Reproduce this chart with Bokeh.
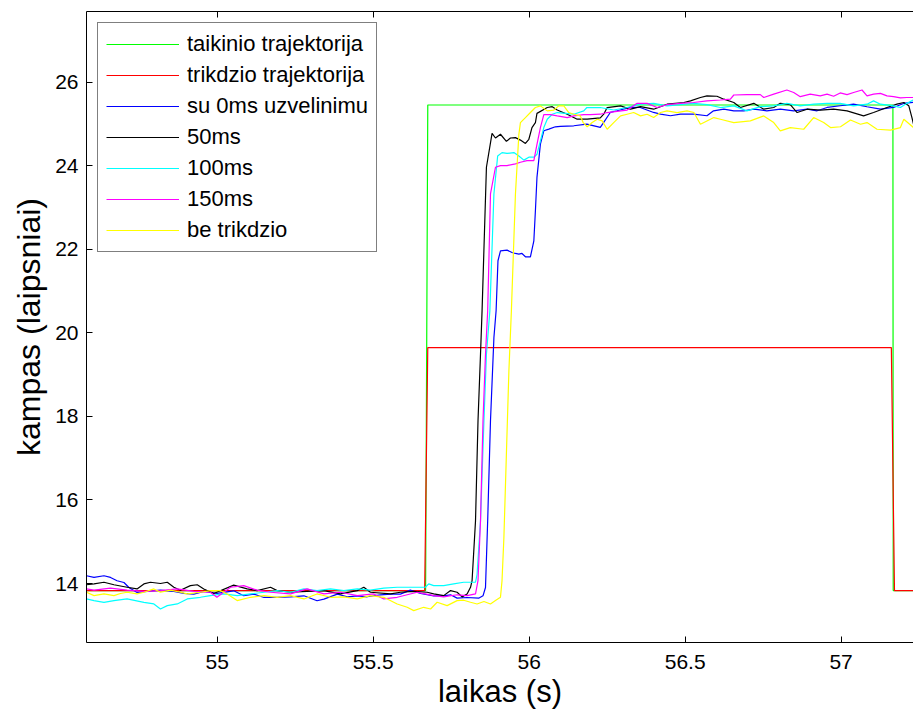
from bokeh.plotting import figure
from bokeh.models import Range1d, LinearAxis, FixedTicker, NumeralTickFormatter, Legend, LegendItem
from bokeh.embed import file_html
from bokeh.resources import INLINE

labels = ["taikinio trajektorija", "trikdzio trajektorija", "su 0ms uzvelinimu",
          "50ms", "100ms", "150ms", "be trikdzio"]
x_ticks = [55, 55.5, 56, 56.5, 57]
y_ticks = [14, 16, 18, 20, 22, 24, 26]

target_x = [54.581, 55.668, 55.675, 57.166, 57.167, 57.232]
target_y = [13.83, 13.83, 25.46, 25.46, 13.83, 13.83]

dist_x = [54.581, 55.665, 55.675, 57.161, 57.171, 57.232]
dist_y = [13.83, 13.83, 19.65, 19.65, 13.83, 13.83]

d0_x = [54.581, 54.605, 54.637, 54.658, 54.679, 54.701, 54.717, 54.743, 54.776, 54.818, 54.861, 54.893, 54.925, 54.957, 54.999,
        55.053, 55.085, 55.117, 55.150, 55.192, 55.235, 55.278, 55.320, 55.342, 55.385, 55.417, 55.449, 55.481, 55.523, 55.556,
        55.587, 55.619, 55.652, 55.694, 55.726, 55.748, 55.769, 55.801, 55.838, 55.852, 55.860, 55.867, 55.876, 55.887, 55.894,
        55.900, 55.908, 55.929, 55.945, 55.956, 55.967, 55.977, 55.988, 56.004, 56.015, 56.020, 56.025, 56.036, 56.047, 56.063,
        56.084, 56.100, 56.143, 56.185, 56.228, 56.239, 56.260, 56.282, 56.324, 56.356, 56.399, 56.421, 56.453, 56.485, 56.527,
        56.570, 56.591, 56.624, 56.656, 56.688, 56.720, 56.762, 56.805, 56.848, 56.891, 56.923, 56.955, 56.997, 57.040, 57.083,
        57.126, 57.168, 57.200, 57.231]
d0_y = [14.185, 14.145, 14.185, 14.145, 14.065, 14.025, 13.905, 13.786, 13.810, 13.842, 13.810, 13.762, 13.746, 13.810, 13.762,
        13.825, 13.706, 13.746, 13.666, 13.666, 13.682, 13.706, 13.586, 13.626, 13.746, 13.682, 13.706, 13.682, 13.730, 13.746,
        13.745, 13.841, 13.761, 13.705, 13.705, 13.729, 13.649, 13.665, 13.649, 13.705, 13.905, 15.502, 17.897, 19.893, 20.532,
        21.730, 21.969, 21.985, 21.929, 21.905, 21.889, 21.905, 21.825, 21.825, 22.209, 22.927, 23.726, 24.524, 24.843, 24.883,
        24.939, 24.950, 24.963, 25.003, 24.923, 25.043, 25.282, 25.322, 25.402, 25.402, 25.282, 25.242, 25.203, 25.242, 25.242,
        25.203, 25.322, 25.362, 25.322, 25.322, 25.362, 25.322, 25.362, 25.322, 25.362, 25.322, 25.402, 25.442, 25.482, 25.418,
        25.362, 25.402, 25.498, 25.522]

d50_x = [54.581, 54.605, 54.637, 54.669, 54.711, 54.743, 54.765, 54.786, 54.818, 54.840, 54.861, 54.882, 54.914, 54.936, 54.957,
         54.989, 55.053, 55.096, 55.128, 55.171, 55.192, 55.235, 55.288, 55.342, 55.395, 55.449, 55.470, 55.491, 55.556, 55.587,
         55.630, 55.673, 55.694, 55.726, 55.748, 55.769, 55.785, 55.801, 55.812, 55.817, 55.828, 55.836, 55.844, 55.849, 55.863,
         55.881, 55.892, 55.908, 55.927, 55.940, 55.956, 55.972, 55.988, 55.999, 56.009, 56.020, 56.025, 56.058, 56.074, 56.090,
         56.122, 56.154, 56.186, 56.228, 56.239, 56.250, 56.293, 56.325, 56.357, 56.399, 56.442, 56.496, 56.517, 56.549, 56.570,
         56.602, 56.624, 56.656, 56.677, 56.720, 56.752, 56.784, 56.805, 56.837, 56.859, 56.891, 56.934, 56.976, 57.019, 57.072,
         57.104, 57.147, 57.179, 57.201, 57.217, 57.227, 57.232]
d50_y = [13.97, 13.99, 14.03, 13.97, 13.91, 13.87, 13.99, 14.03, 14.00, 14.03, 13.91, 13.84, 13.95, 13.97, 13.87,
         13.76, 13.96, 13.87, 13.83, 13.91, 13.83, 13.79, 13.81, 13.83, 13.75, 13.83, 13.91, 13.79, 13.75, 13.79,
         13.81, 13.79, 13.75, 13.71, 13.83, 13.79, 13.68, 13.75, 13.91, 14.07, 15.50, 17.90, 19.49, 20.53, 23.97,
         24.78, 24.67, 24.76, 24.59, 24.67, 24.68, 24.62, 24.54, 24.64, 24.92, 25.04, 25.26, 25.40, 25.42, 25.34,
         25.24, 25.12, 25.12, 25.15, 25.24, 25.40, 25.44, 25.36, 25.42, 25.36, 25.48, 25.52, 25.56, 25.64, 25.68,
         25.67, 25.60, 25.52, 25.40, 25.50, 25.36, 25.40, 25.50, 25.47, 25.28, 25.36, 25.34, 25.36, 25.32, 25.20,
         25.28, 25.40, 25.48, 25.52, 25.44, 25.16, 25.00]

d100_x = [54.581, 54.605, 54.637, 54.669, 54.711, 54.765, 54.797, 54.818, 54.840, 54.872, 54.904, 54.946, 54.978, 55.021, 55.064,
          55.107, 55.150, 55.192, 55.235, 55.278, 55.320, 55.363, 55.406, 55.449, 55.491, 55.534, 55.577, 55.630, 55.667, 55.678,
          55.694, 55.726, 55.758, 55.790, 55.828, 55.833, 55.844, 55.855, 55.863, 55.874, 55.887, 55.899, 55.913, 55.929, 55.951,
          55.967, 55.983, 55.999, 56.015, 56.025, 56.036, 56.047, 56.058, 56.074, 56.090, 56.143, 56.175, 56.185, 56.228, 56.271,
          56.314, 56.356, 56.399, 56.442, 56.485, 56.527, 56.570, 56.613, 56.656, 56.698, 56.741, 56.784, 56.826, 56.869, 56.912,
          56.955, 56.997, 57.040, 57.083, 57.104, 57.126, 57.168, 57.190, 57.211, 57.231]
d100_y = [13.63, 13.59, 13.55, 13.59, 13.63, 13.55, 13.51, 13.39, 13.47, 13.51, 13.63, 13.67, 13.71, 13.75, 13.71,
          13.75, 13.79, 13.83, 13.79, 13.87, 13.83, 13.87, 13.83, 13.87, 13.84, 13.89, 13.91, 13.91, 13.91, 13.99,
          13.95, 13.95, 13.99, 14.03, 14.03, 14.22, 15.50, 17.90, 19.49, 20.53, 23.33, 24.24, 24.32, 24.30, 24.32,
          24.24, 24.14, 24.21, 24.21, 24.28, 24.60, 24.92, 25.12, 25.24, 25.28, 25.24, 25.32, 25.40, 25.40, 25.34,
          25.40, 25.48, 25.50, 25.44, 25.47, 25.50, 25.47, 25.40, 25.44, 25.32, 25.42, 25.44, 25.50, 25.44, 25.48,
          25.50, 25.50, 25.44, 25.48, 25.56, 25.48, 25.44, 25.40, 25.50, 25.58]

d150_x = [54.581, 54.605, 54.658, 54.711, 54.765, 54.818, 54.872, 54.925, 54.978, 54.999, 55.043, 55.085, 55.128, 55.171, 55.235,
          55.288, 55.342, 55.395, 55.449, 55.502, 55.534, 55.577, 55.641, 55.694, 55.726, 55.769, 55.801, 55.828, 55.836, 55.844,
          55.852, 55.860, 55.867, 55.876, 55.892, 55.908, 55.929, 55.956, 55.972, 55.993, 56.015, 56.025, 56.036, 56.047, 56.068,
          56.090, 56.122, 56.143, 56.175, 56.196, 56.228, 56.250, 56.314, 56.346, 56.378, 56.410, 56.442, 56.485, 56.527, 56.570,
          56.613, 56.645, 56.656, 56.698, 56.741, 56.752, 56.784, 56.826, 56.848, 56.869, 56.901, 56.933, 56.955, 56.976, 56.997,
          57.019, 57.040, 57.067, 57.083, 57.104, 57.126, 57.147, 57.168, 57.190, 57.211, 57.231]
d150_y = [13.87, 13.84, 13.89, 13.84, 13.81, 13.83, 13.87, 13.81, 13.79, 13.67, 13.91, 13.95, 13.84, 13.79, 13.75,
          13.87, 13.75, 13.79, 13.71, 13.75, 13.63, 13.67, 13.79, 13.71, 13.68, 13.73, 13.71, 13.75, 14.07, 15.50,
          17.90, 19.49, 20.53, 23.33, 23.97, 24.01, 24.01, 24.05, 24.09, 24.13, 24.13, 24.52, 24.92, 25.23, 25.23,
          25.20, 25.16, 25.20, 25.23, 25.23, 25.24, 25.28, 25.34, 25.50, 25.50, 25.40, 25.47, 25.50, 25.52, 25.56,
          25.58, 25.60, 25.70, 25.71, 25.71, 25.64, 25.72, 25.82, 25.76, 25.66, 25.72, 25.68, 25.72, 25.67, 25.75,
          25.71, 25.76, 25.82, 25.68, 25.72, 25.74, 25.68, 25.66, 25.63, 25.64, 25.64]

free_x = [54.581, 54.605, 54.637, 54.669, 54.690, 54.711, 54.743, 54.765, 54.797, 54.818, 54.850, 54.882, 54.904, 54.946, 54.978,
          55.010, 55.032, 55.064, 55.107, 55.150, 55.192, 55.235, 55.278, 55.320, 55.363, 55.406, 55.449, 55.491, 55.534, 55.577,
          55.609, 55.630, 55.662, 55.684, 55.705, 55.737, 55.769, 55.790, 55.812, 55.833, 55.855, 55.876, 55.892, 55.908, 55.913,
          55.919, 55.927, 55.935, 55.943, 55.956, 55.967, 55.972, 55.988, 56.004, 56.020, 56.036, 56.058, 56.079, 56.095, 56.111,
          56.127, 56.143, 56.164, 56.173, 56.186, 56.202, 56.218, 56.234, 56.250, 56.271, 56.293, 56.314, 56.335, 56.357, 56.378,
          56.399, 56.421, 56.442, 56.474, 56.506, 56.528, 56.549, 56.592, 56.613, 56.656, 56.709, 56.752, 56.784, 56.805, 56.837,
          56.880, 56.912, 56.944, 56.966, 56.998, 57.030, 57.062, 57.083, 57.115, 57.158, 57.190, 57.201, 57.232]
free_y = [13.79, 13.71, 13.75, 13.71, 13.76, 13.79, 13.75, 13.79, 13.87, 13.79, 13.84, 13.79, 13.75, 13.79, 13.83,
          13.83, 13.75, 13.59, 13.67, 13.71, 13.67, 13.71, 13.63, 13.75, 13.67, 13.68, 13.63, 13.71, 13.67, 13.51,
          13.43, 13.35, 13.43, 13.39, 13.55, 13.47, 13.59, 13.60, 13.55, 13.51, 13.57, 13.51, 13.59, 13.67, 14.07,
          15.10, 17.10, 19.09, 20.53, 23.33, 24.76, 25.04, 25.16, 25.28, 25.40, 25.44, 25.32, 25.34, 25.44, 25.44,
          25.28, 25.24, 25.20, 25.04, 24.94, 25.04, 25.12, 25.08, 24.88, 25.04, 25.20, 25.24, 25.28, 25.20, 25.24,
          25.16, 25.28, 25.32, 25.28, 25.32, 25.28, 25.00, 25.16, 25.12, 25.04, 25.08, 25.20, 25.04, 24.84, 24.92,
          24.88, 25.16, 25.04, 24.92, 24.94, 25.10, 25.00, 25.04, 24.88, 24.86, 24.92, 25.12, 24.92]

series = [
    (target_x, target_y, "#00ff00"),
    (dist_x, dist_y, "#ff0000"),
    (d0_x, d0_y, "#0000ff"),
    (d50_x, d50_y, "#000000"),
    (d100_x, d100_y, "#00ffff"),
    (d150_x, d150_y, "#ff00ff"),
    (free_x, free_y, "#ffff00"),
]

FONT = "Liberation Sans"

p = figure(width=913, height=713, output_backend="svg", toolbar_location=None,
           x_range=Range1d(54.581, 57.232), y_range=Range1d(12.587, 27.70),
           min_border_left=86, min_border_right=0, min_border_top=11, min_border_bottom=71)
p.background_fill_color = "white"
p.border_fill_color = "white"
p.outline_line_color = None
p.grid.visible = False

for ax in (p.xaxis[0], p.yaxis[0]):
    ax.axis_line_color = "black"
    ax.axis_line_width = 1
    ax.major_tick_line_color = "black"
    ax.major_tick_in = 6
    ax.major_tick_out = 0
    ax.minor_tick_in = 0
    ax.minor_tick_out = 0
    ax.major_label_text_color = "black"
    ax.major_label_text_font = FONT
    ax.major_label_text_font_size = "21px"
    ax.axis_label_text_color = "black"
    ax.axis_label_text_font = FONT
    ax.axis_label_text_font_style = "normal"

p.xaxis.ticker = FixedTicker(ticks=x_ticks)
p.xaxis.formatter = NumeralTickFormatter(format="0.[0]")
p.xaxis.axis_label = "laikas (s)"
p.xaxis.axis_label_text_font_size = "31px"
p.xaxis.major_label_standoff = 12
p.xaxis.axis_label_standoff = 2

p.yaxis.ticker = FixedTicker(ticks=y_ticks)
p.yaxis.axis_label = "kampas (laipsniai)"
p.yaxis.axis_label_text_font_size = "32px"
p.yaxis.major_label_standoff = 8
p.yaxis.axis_label_standoff = 5

top = LinearAxis(ticker=FixedTicker(ticks=x_ticks), major_label_text_font_size="0px",
                 major_label_text_color=None,
                 major_tick_in=6, major_tick_out=0, minor_tick_in=0, minor_tick_out=0,
                 major_label_standoff=0, axis_line_color="black", major_tick_line_color="black")
p.add_layout(top, "above")

items = []
for (xs, ys, col), lab in zip(series, labels):
    r = p.line(xs, ys, line_color=col, line_width=1.2)
    items.append(LegendItem(label=lab, renderers=[r]))

legend = Legend(items=items, location="top_left", margin=11, padding=8, spacing=5,
                glyph_width=73, glyph_height=24, label_height=24, label_standoff=8,
                label_text_font=FONT, label_text_font_size="22px", label_text_color="black",
                border_line_color="black", border_line_width=1,
                background_fill_color="white", background_fill_alpha=1)
p.add_layout(legend)

open("out.html", "w").write(file_html(p, INLINE))
